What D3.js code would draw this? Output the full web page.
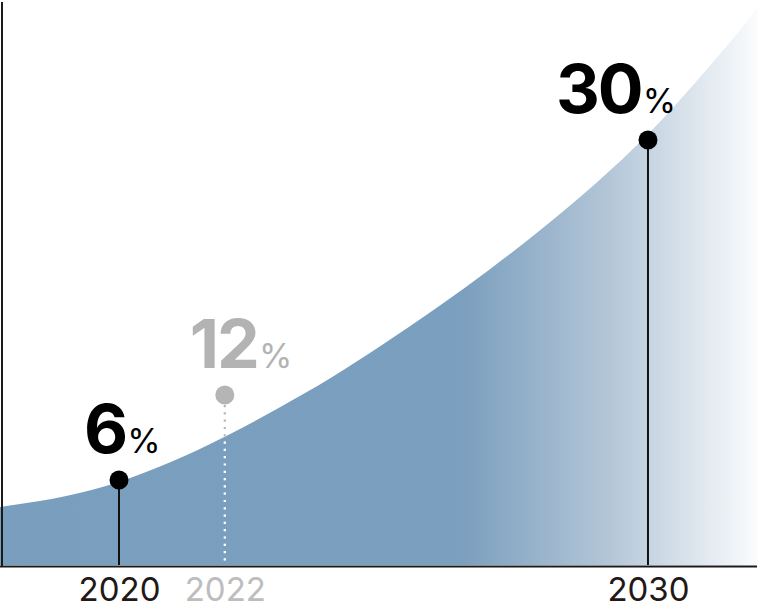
<!DOCTYPE html>
<html>
<head>
<meta charset="utf-8">
<script src="https://cdn.jsdelivr.net/npm/d3@7"></script>
<style>
  html, body { margin: 0; padding: 0; background: #fff; }
  svg { display: block; }
</style>
</head>
<body>
<svg id="chart" width="758" height="609"></svg>
<script>
// ---- data ----
const curveYears  = [2017.75, 2018, 2019, 2020, 2021, 2022, 2023, 2024, 2025, 2026, 2027, 2028, 2029, 2030, 2031, 2032, 2032.1];
const curveValues = [4.1, 4.24, 4.87, 5.86, 7.3, 9.05, 11.05, 13.2, 15.6, 18.15, 20.85, 23.75, 26.9, 30.4, 34.5, 39.0, 39.5];

const markerYears  = [2020, 2022, 2030];
const markerValues = [6, 12, 30];
const tickLabels   = ["2020", "2022", "2030"];
const projectedYear = 2022;

// ---- layout ----
const W = 758, H = 609;
const svg = d3.select("#chart");

const x = d3.scaleLinear().domain([2017.75, 2032.08]).range([0, W]);
const y = d3.scaleLinear().domain([0, 30]).range([565, 140]);

const defs = svg.append("defs");
const grad = defs.append("linearGradient")
  .attr("id", "fillGrad")
  .attr("gradientUnits", "userSpaceOnUse")
  .attr("x1", 0).attr("x2", W).attr("y1", 0).attr("y2", 0);
grad.append("stop").attr("offset", 0).attr("stop-color", "#7a9ebd");
grad.append("stop").attr("offset", 0.61).attr("stop-color", "#7b9fbe");
grad.append("stop").attr("offset", 0.8).attr("stop-color", "#b2c5d7");
grad.append("stop").attr("offset", 1).attr("stop-color", "#fbfcfd");

const curveData = curveYears.map((yr, i) => ({ year: yr, value: curveValues[i] }));

const area = d3.area()
  .x(d => x(d.year))
  .y0(y(0))
  .y1(d => y(d.value))
  .curve(d3.curveMonotoneX);

defs.append("clipPath").attr("id", "areaClip")
  .append("path").attr("d", area(curveData));

svg.append("path")
  .attr("d", area(curveData))
  .attr("fill", "url(#fillGrad)");

const markers = markerYears.map((yr, i) => ({ year: yr, value: markerValues[i], label: tickLabels[i] }));
const isProj = d => d.year === projectedYear;

// projected dotted line: gray above curve, white inside area
const proj = markers.filter(isProj);
svg.selectAll(".projLine").data(proj).join("line")
  .attr("x1", d => x(d.year)).attr("x2", d => x(d.year))
  .attr("y1", d => y(d.value) + 10).attr("y2", y(0))
  .attr("stroke", "#b8b8b8").attr("stroke-width", 2.2)
  .attr("stroke-dasharray", "2.2,5.1");
svg.append("g").attr("clip-path", "url(#areaClip)")
  .selectAll("line").data(proj).join("line")
  .attr("x1", d => x(d.year)).attr("x2", d => x(d.year))
  .attr("y1", d => y(d.value) + 10).attr("y2", y(0))
  .attr("stroke", "#ffffff").attr("stroke-width", 2.2)
  .attr("stroke-dasharray", "2.2,5.1");

// solid stems
svg.selectAll(".stem").data(markers.filter(d => !isProj(d))).join("line")
  .attr("x1", d => x(d.year)).attr("x2", d => x(d.year))
  .attr("y1", d => y(d.value)).attr("y2", y(0))
  .attr("stroke", "#111").attr("stroke-width", 2);

// axes
svg.append("line")
  .attr("x1", 2).attr("x2", 2).attr("y1", 2).attr("y2", 567)
  .attr("stroke", "#1a1a1a").attr("stroke-width", 2);
svg.append("line")
  .attr("x1", 0).attr("x2", 757).attr("y1", 566.5).attr("y2", 566.5)
  .attr("stroke", "#1a1a1a").attr("stroke-width", 2);

// circles
svg.selectAll(".dot").data(markers).join("circle")
  .attr("cx", d => x(d.year)).attr("cy", d => y(d.value)).attr("r", 9.5)
  .attr("fill", d => isProj(d) ? "#b5b5b5" : "#000");

// value labels
const labelDx = { 2020: -35, 2022: -35, 2030: -92 };
const vLabels = svg.selectAll(".vlab").data(markers).join("text")
  .attr("x", d => x(d.year) + labelDx[d.year])
  .attr("y", d => y(d.value) - 27)
  .attr("fill", d => isProj(d) ? "#b3b3b3" : "#000")
  .style("font-family", "Inter, 'Open Sans', sans-serif");
vLabels.append("tspan")
  .text(d => d.value)
  .style("font-size", "68px").style("font-weight", 700).style("letter-spacing", "-2px");
vLabels.append("tspan")
  .attr("dx", 1)
  .text("%")
  .style("font-size", "34px").style("font-weight", 400);

// year tick labels
svg.selectAll(".tick").data(markers).join("text")
  .attr("x", d => x(d.year) + 0.5)
  .attr("y", 601)
  .attr("text-anchor", "middle")
  .attr("fill", d => isProj(d) ? "#bdbdbd" : "#231815")
  .style("font-family", "Inter, 'Open Sans', sans-serif")
  .style("font-size", "33px").style("font-weight", 400)
  .text(d => d.label);
</script>
</body>
</html>
